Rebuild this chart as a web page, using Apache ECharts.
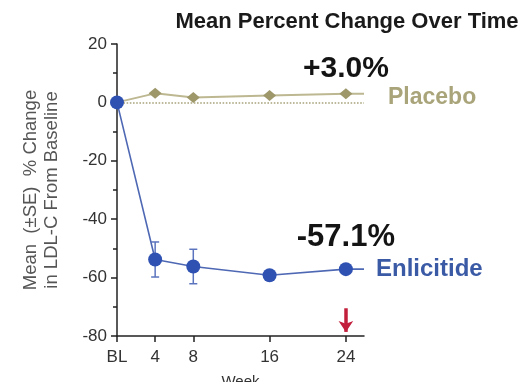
<!DOCTYPE html>
<html>
<head>
<meta charset="utf-8">
<script src="https://cdn.jsdelivr.net/npm/echarts@6/dist/echarts.min.js"></script>
<style>
  html, body { margin: 0; padding: 0; background: #fff; }
  #chart { width: 530px; height: 382px; }
</style>
</head>
<body>
<div id="chart"></div>
<script>
// Study visits (weeks from baseline) and their axis labels
const weeks = [0, 4, 8, 16, 24];
const weekLabels = { 0: 'BL', 4: '4', 8: '8', 16: '16', 24: '24' };

// Mean percent change in LDL-C from baseline
const placebo = [0, 3.1, 1.7, 2.4, 3.0];
const enlicitide = [0, -53.8, -56.2, -59.2, -57.1];
// Standard errors for the enlicitide arm
const enlicitideSE = [0, 6.0, 5.9, 1.0, 1.0];

// Lines run a little past the final visit toward the series names
const tailWeek = 25.9;

// y-axis range
const yMin = -80, yMax = 20, yStep = 20;

const FONT = "'Liberation Sans', Arial, Helvetica, sans-serif";
const OLIVE = '#9d976a';
const OLIVE_LINE = '#bdb891';
const BLUE = '#2f51b2';
const BLUE_LINE = '#4e68b4';

function valueLabel(p) {
  const v = p.value[1];
  return (v > 0 ? '+' : '') + v.toFixed(1) + '%';
}

function seriesData(values, labelStyle) {
  const d = weeks.map((w, i) => ({ value: [w, values[i]] }));
  d[d.length - 1].label = Object.assign({
    show: true, position: 'top', formatter: valueLabel,
    fontFamily: FONT, fontWeight: 'bold', fontSize: 30, color: '#141414'
  }, labelStyle);
  // short run-out past week 24
  d.push({ value: [tailWeek, values[values.length - 1]], symbol: 'none' });
  return d;
}

const chart = echarts.init(document.getElementById('chart'), null, { renderer: 'canvas' });

chart.setOption({
  animation: false,
  title: {
    text: 'Mean Percent Change Over Time',
    left: 342, top: 6, textAlign: 'center',
    textStyle: { fontFamily: FONT, fontWeight: 'bold', fontSize: 22, color: '#1a1a1a' }
  },
  grid: { left: 117, right: 166, top: 44, bottom: 46, containLabel: false, outerBoundsMode: 'none' },
  xAxis: {
    type: 'value', min: 0, max: tailWeek, interval: 4,
    name: 'Week', nameLocation: 'middle', nameGap: 38,
    nameTextStyle: { fontFamily: FONT, fontSize: 15, color: '#333' },
    axisLine: { onZero: false, lineStyle: { color: '#222', width: 1.5 } },
    axisTick: { show: true, length: 6, customValues: weeks, lineStyle: { color: '#222', width: 1.5 } },
    axisLabel: {
      customValues: weeks, margin: 13,
      formatter: v => weekLabels[v] ?? '',
      fontFamily: FONT, fontSize: 17, color: '#333'
    },
    splitLine: { show: false }
  },
  yAxis: {
    type: 'value', min: yMin, max: yMax, interval: yStep,
    name: 'Mean  (±SE)  % Change\nin LDL-C From Baseline',
    nameLocation: 'middle', nameRotate: 90, nameGap: 55,
    nameTextStyle: { fontFamily: FONT, fontSize: 18.5, color: '#555', lineHeight: 21 },
    axisLine: { show: true, onZero: false, lineStyle: { color: '#222', width: 1.5 } },
    axisTick: { show: true, length: 6, lineStyle: { color: '#222', width: 1.5 } },
    minorTick: { show: true, splitNumber: 2, length: 4, lineStyle: { color: '#222', width: 1.5 } },
    axisLabel: { margin: 10, fontFamily: FONT, fontSize: 17, color: '#333' },
    splitLine: { show: false }
  },
  series: [
    {
      name: 'Placebo', type: 'line', z: 3,
      data: seriesData(placebo, { distance: 4 }),
      symbol: 'diamond', symbolSize: [13, 11],
      itemStyle: { color: OLIVE },
      lineStyle: { color: OLIVE_LINE, width: 2 },
      endLabel: {
        show: true, formatter: '{a}', distance: 24, offset: [0, 4],
        fontFamily: FONT, fontWeight: 'bold', fontSize: 23, color: '#a9a47a'
      },
      markLine: {
        silent: true, symbol: ['none', 'none'], label: { show: false },
        lineStyle: { color: '#a9a37c', type: 'dotted', width: 1.6 },
        data: [[{ coord: [0, 0] }, { coord: [tailWeek, 0] }]]
      }
    },
    {
      name: 'SE', type: 'custom', z: 4,
      data: weeks.map((w, i) => [w, enlicitide[i], enlicitideSE[i]]),
      renderItem: (params, api) => {
        const x = api.value(0), m = api.value(1), se = api.value(2);
        if (!se) return null;
        const top = api.coord([x, m + se]);
        const bot = api.coord([x, m - se]);
        const cap = 4;
        const style = { stroke: '#5b74bd', lineWidth: 1.5 };
        return {
          type: 'group',
          children: [
            { type: 'line', shape: { x1: top[0], y1: top[1], x2: bot[0], y2: bot[1] }, style },
            { type: 'line', shape: { x1: top[0] - cap, y1: top[1], x2: top[0] + cap, y2: top[1] }, style },
            { type: 'line', shape: { x1: bot[0] - cap, y1: bot[1], x2: bot[0] + cap, y2: bot[1] }, style }
          ]
        };
      }
    },
    {
      name: 'Enlicitide', type: 'line', z: 5,
      data: seriesData(enlicitide, { distance: 9, fontSize: 31 }),
      symbol: 'circle', symbolSize: 14,
      itemStyle: { color: BLUE },
      lineStyle: { color: BLUE_LINE, width: 1.6 },
      endLabel: {
        show: true, formatter: '{a}', distance: 12, offset: [0, 0],
        fontFamily: FONT, fontWeight: 'bold', fontSize: 24, color: '#3a5aa6'
      },
      markLine: {
        silent: true, symbol: ['none', 'arrow'], symbolSize: [11, 11],
        label: { show: false },
        lineStyle: { color: '#c21f3d', type: 'solid', width: 3.5 },
        data: [[{ coord: [24, -70.5] }, { coord: [24, -78.6] }]]
      }
    }
  ]
});
</script>
</body>
</html>
